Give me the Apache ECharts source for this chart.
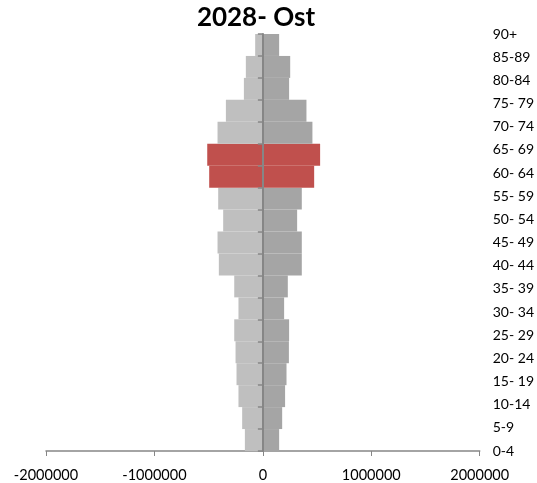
<!DOCTYPE html>
<html>
<head>
<meta charset="utf-8">
<script src="https://cdn.jsdelivr.net/npm/echarts@6/dist/echarts.min.js"></script>
<style>
  html, body { margin: 0; padding: 0; background: #fff; }
  #chart { width: 537px; height: 483px; }
</style>
</head>
<body>
<div id="chart"></div>
<script>
// age groups, bottom to top
var ageGroups = ['0-4', '5-9', '10-14', '15- 19', '20- 24', '25- 29', '30- 34', '35- 39', '40- 44',
  '45- 49', '50- 54', '55- 59', '60- 64', '65- 69', '70- 74', '75- 79', '80-84', '85-89', '90+']
// left side (shown as negative), right side
var leftValues = [-166000, -191000, -225000, -243000, -252000, -264000, -225000, -264000, -406000,
  -418000, -366000, -412000, -495000, -513000, -418000, -341000, -175000, -157000, -71000]
var rightValues = [150000, 178000, 205000, 218000, 240000, 242000, 196000, 230000, 359000,
  359000, 316000, 359000, 473000, 528000, 457000, 402000, 242000, 252000, 150000]
var highlighted = ['60- 64', '65- 69']

var font = 'Lato, "Open Sans", sans-serif'
var axisGray = '#868686'

function buildData (values, color) {
  return values.map(function (v, i) {
    var item = { value: v }
    if (highlighted.indexOf(ageGroups[i]) >= 0) item.itemStyle = { color: '#C0504D' }
    else item.itemStyle = { color: color }
    return item
  })
}

var myChart = echarts.init(document.getElementById('chart'))
var option = {
  animation: false,
  title: {
    text: '2028- Ost',
    left: 251,
    textAlign: 'center',
    top: 0,
    textStyle: { fontFamily: font, fontWeight: 'bold', fontSize: 26, color: '#000' }
  },
  grid: { left: 46, right: 57, top: 34, bottom: 31 },
  xAxis: {
    type: 'value',
    min: -2000000,
    max: 2000000,
    interval: 1000000,
    splitLine: { show: false },
    axisLine: { show: true, lineStyle: { color: axisGray, width: 1.5 } },
    axisTick: { show: true, length: 5, lineStyle: { color: axisGray } },
    axisLabel: {
      color: '#000',
      fontFamily: font,
      fontSize: 14.5,
      margin: 17,
      formatter: function (v) { return String(v) }
    }
  },
  yAxis: [
    {
      type: 'category',
      data: ageGroups,
      z: 10,
      axisLine: { show: true, onZero: true, lineStyle: { color: axisGray, width: 2 } },
      axisTick: { show: true, length: 5, lineStyle: { color: axisGray, width: 1.5 } },
      axisLabel: { show: false }
    },
    {
      type: 'category',
      data: ageGroups,
      position: 'right',
      boundaryGap: false,
      axisLine: { show: false },
      axisTick: { show: false },
      axisLabel: { color: '#000', fontFamily: font, fontSize: 14, margin: 13, align: 'left' }
    }
  ],
  series: [
    {
      type: 'bar',
      stack: 'pop',
      barCategoryGap: 0,
      data: buildData(leftValues, '#BFBFBF')
    },
    {
      type: 'bar',
      stack: 'pop',
      barCategoryGap: 0,
      data: buildData(rightValues, '#A5A5A5')
    }
  ]
}
myChart.setOption(option)
</script>
</body>
</html>
